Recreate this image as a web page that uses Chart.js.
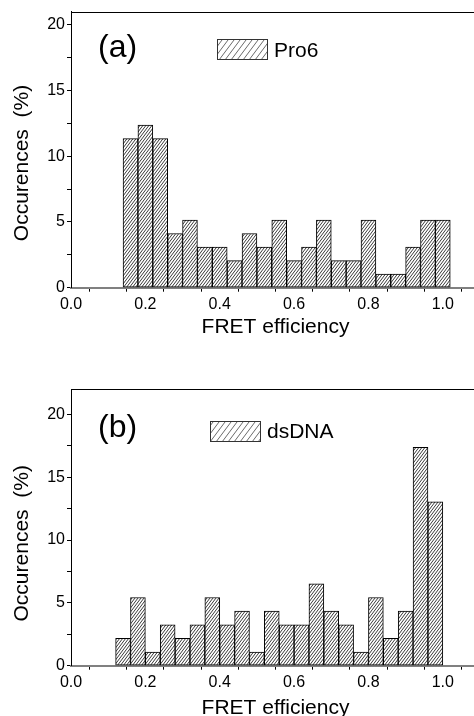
<!DOCTYPE html>
<html>
<head>
<meta charset="utf-8">
<script src="https://cdn.jsdelivr.net/npm/chart.js@4.4.1/dist/chart.umd.min.js"></script>
<style>
  html, body { margin: 0; padding: 0; background: #fff; width: 474px; height: 716px; overflow: hidden; }
  canvas { position: absolute; left: 0; }
  #c1 { top: 0px; }
  #c2 { top: 370px; }
</style>
</head>
<body>
<canvas id="c1" width="490" height="350"></canvas>
<canvas id="c2" width="490" height="360"></canvas>
<script>
// ---- data ----
const pro6Bins = [0.16, 0.20, 0.24, 0.28, 0.32, 0.36, 0.40, 0.44, 0.48, 0.52, 0.56,
                  0.60, 0.64, 0.68, 0.72, 0.76, 0.80, 0.84, 0.88, 0.92, 0.96, 1.00];
const pro6Values = [11.34, 12.37, 11.34, 4.12, 5.15, 3.09, 3.09, 2.06, 4.12, 3.09, 5.15,
                    2.06, 3.09, 5.15, 2.06, 2.06, 5.15, 1.03, 1.03, 3.09, 5.15, 5.15];
const dsdnaBins = [0.14, 0.18, 0.22, 0.26, 0.30, 0.34, 0.38, 0.42, 0.46, 0.50, 0.54,
                   0.58, 0.62, 0.66, 0.70, 0.74, 0.78, 0.82, 0.86, 0.90, 0.94, 0.98];
const dsdnaValues = [2.17, 5.43, 1.09, 3.26, 2.17, 3.26, 5.43, 3.26, 4.35, 1.09, 4.35,
                     3.26, 3.26, 6.52, 4.35, 3.26, 1.09, 5.43, 2.17, 4.35, 17.39, 13.04];
const xTickLabels = ['0.0', '0.2', '0.4', '0.6', '0.8', '1.0'];
const yTickLabels = ['0', '5', '10', '15', '20'];
const xTitle = 'FRET efficiency';
const yTitle = 'Occurences  (%)';

const FONT = '"Liberation Sans", Arial, Helvetica, sans-serif';

function hatch(w, h, color, lw) {
  const c = document.createElement('canvas');
  c.width = w; c.height = h;
  const g = c.getContext('2d');
  g.fillStyle = '#fff'; g.fillRect(0, 0, w, h);
  g.strokeStyle = color; g.lineWidth = lw;
  for (const off of [-w, 0, w]) {
    g.beginPath();
    g.moveTo(off - w, 2 * h);
    g.lineTo(off + 2 * w, -h);
    g.stroke();
  }
  return g.createPattern(c, 'repeat');
}

const decor = {
  id: 'decor',
  afterDraw(chart, args, o) {
    const { ctx, chartArea: a } = chart;
    ctx.save();
    // top frame line
    ctx.strokeStyle = '#000'; ctx.lineWidth = 1;
    ctx.beginPath(); ctx.moveTo(a.left, Math.round(a.top) + 0.5); ctx.lineTo(a.right, Math.round(a.top) + 0.5); ctx.stroke();
    // panel label
    ctx.fillStyle = '#000';
    ctx.font = '32px ' + FONT;
    ctx.textAlign = 'left'; ctx.textBaseline = 'alphabetic';
    ctx.fillText(o.panel, o.panelX, o.panelY);
    // legend
    const ds = chart.data.datasets[0];
    ctx.fillStyle = o.legendPattern;
    ctx.fillRect(o.legX, o.legY, o.legW, o.legH);
    ctx.strokeStyle = '#333'; ctx.lineWidth = 1;
    ctx.strokeRect(o.legX + 0.5, o.legY + 0.5, o.legW, o.legH);
    ctx.fillStyle = '#000';
    ctx.font = '21px ' + FONT;
    ctx.fillText(ds.label, o.legTextX, o.legTextY);
    // y axis title
    ctx.translate(o.yTitleX, o.yTitleY);
    ctx.rotate(-Math.PI / 2);
    ctx.textAlign = 'center'; ctx.textBaseline = 'middle';
    ctx.fillText(yTitle, 0, 0);
    ctx.restore();
  }
};

function makeChart(id, label, bins, values, cfg) {
  const barPattern = hatch(3, 4, '#222', 0.9);
  const legendPattern = hatch(6, 8, '#444', 0.8);
  const H = document.getElementById(id).height;
  return new Chart(document.getElementById(id), {
    type: 'bar',
    data: {
      datasets: [{
        label: label,
        data: bins.map((b, i) => ({ x: b, y: values[i] })),
        backgroundColor: barPattern,
        borderColor: '#000',
        borderWidth: 1,
        borderSkipped: false,
        barPercentage: 1,
        categoryPercentage: 1
      }]
    },
    options: {
      responsive: false,
      animation: false,
      events: [],
      layout: { padding: { top: cfg.padTop, left: 0, right: 10, bottom: 0 } },
      plugins: {
        legend: { display: false },
        tooltip: { enabled: false },
        decor: Object.assign({ legendPattern }, cfg.decor)
      },
      scales: {
        x: {
          type: 'linear',
          offset: false,
          min: 0, max: 1.1,
          afterFit: (s) => { s.height = cfg.xHeight; },
          border: { display: true, color: '#808080', width: 2 },
          grid: { drawOnChartArea: false, drawTicks: true, tickLength: 4, tickColor: '#000', tickWidth: 1 },
          ticks: {
            stepSize: 0.1, autoSkip: false, includeBounds: false, maxRotation: 0,
            color: '#000', font: { family: FONT, size: 16 }, padding: 3,
            callback: (v) => { const k = Math.round(v * 10); return (k % 2 === 0) ? (xTickLabels[k / 2] || '') : ''; }
          },
          title: {
            display: true, text: xTitle, color: '#000',
            font: { family: FONT, size: 21 },
            padding: { top: 0, bottom: cfg.xTitlePad }
          }
        },
        y: {
          min: 0, max: cfg.yMax,
          afterFit: (s) => { s.width = 71; },
          border: { display: true, color: '#000', width: 1 },
          grid: { drawOnChartArea: false, drawTicks: true, tickLength: 4, tickColor: '#000', tickWidth: 1 },
          ticks: {
            stepSize: 2.5, autoSkip: false, includeBounds: false,
            color: '#000', font: { family: FONT, size: 16 }, padding: 2,
            callback: (v) => (v % 5 === 0 ? yTickLabels[v / 5] : '')
          }
        }
      }
    },
    plugins: [decor]
  });
}

makeChart('c1', 'Pro6', pro6Bins, pro6Values, {
  padTop: 11, xHeight: 62.3, xTitlePad: 9.9, yMax: 21,
  decor: { panel: '(a)', panelX: 98, panelY: 56.5,
           legX: 217, legY: 39, legW: 50, legH: 20, legTextX: 274, legTextY: 57.3,
           yTitleX: 22.5, yTitleY: 163 }
});
makeChart('c2', 'dsDNA', dsdnaBins, dsdnaValues, {
  padTop: 19.3, xHeight: 64.3, xTitlePad: 9.4, yMax: 22,
  decor: { panel: '(b)', panelX: 98, panelY: 67,
           legX: 210, legY: 51, legW: 50, legH: 20, legTextX: 267, legTextY: 68.3,
           yTitleX: 22.5, yTitleY: 173.3 }
});
</script>
</body>
</html>
